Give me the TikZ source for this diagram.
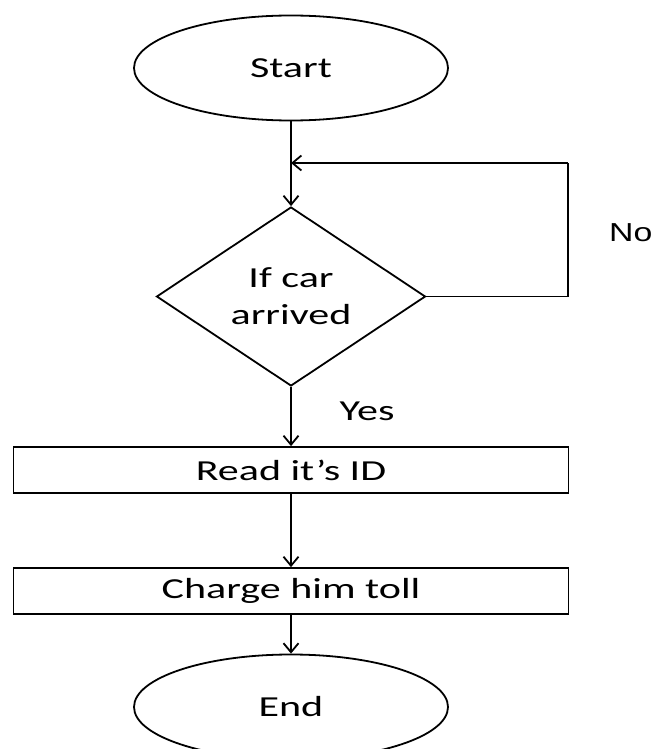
\documentclass[tikz,border=0pt]{standalone}
\usepackage{fontspec}
\setmainfont{Carlito}[FakeStretch=1.45]
\newfontfamily\nofont{Liberation Sans}[FakeStretch=1.3]
\usetikzlibrary{shapes.geometric,arrows.meta}
\begin{document}
\begin{tikzpicture}[x=1pt,y=-1pt,
  every node/.style={font=\fontsize{29}{37}\selectfont},
  term/.style={draw,ellipse,line width=1.8pt,minimum width=314pt,minimum height=105pt,inner sep=0pt},
  decis/.style={draw,diamond,line width=1.8pt,minimum width=269pt,minimum height=179pt,aspect=1.5,inner sep=0pt,align=center},
  proc/.style={draw,rectangle,line width=1.8pt,minimum width=555pt,minimum height=46pt,inner sep=0pt},
  conn/.style={line width=1.8pt,-{Straight Barb[length=9pt,width=15pt,line width=1.8pt]}},
  plain/.style={line width=1.8pt}
]
\useasboundingbox (0,0) rectangle (656,749);
\node[term] (start) at (291,68) {Start};
\node[decis] (dec) at (291,296.5) {If car\\arrived};
\node[proc] (read) at (291,470) {Read it’s ID};
\node[proc] (charge) at (291,591) {Charge him toll};
\node[term] (end) at (291,707) {End};
\coordinate (loop) at (291,163);
\coordinate (c1) at (568,296.5);
\coordinate (c2) at (568,163);
\draw[conn] (start) -- (dec);
\draw[plain] (dec.east) -- (c1) -- (c2);
\draw[conn] (c2) -- (loop);
\draw[conn] (dec) -- (read);
\draw[conn] (read) -- (charge);
\draw[conn] (charge) -- (end);
\node[font=\nofont\fontsize{26}{28}\selectfont,anchor=west,inner sep=0pt] (no) at (609,233) {No};
\node[inner sep=0pt] (yes) at (367,411) {Yes};
\end{tikzpicture}
\end{document}
